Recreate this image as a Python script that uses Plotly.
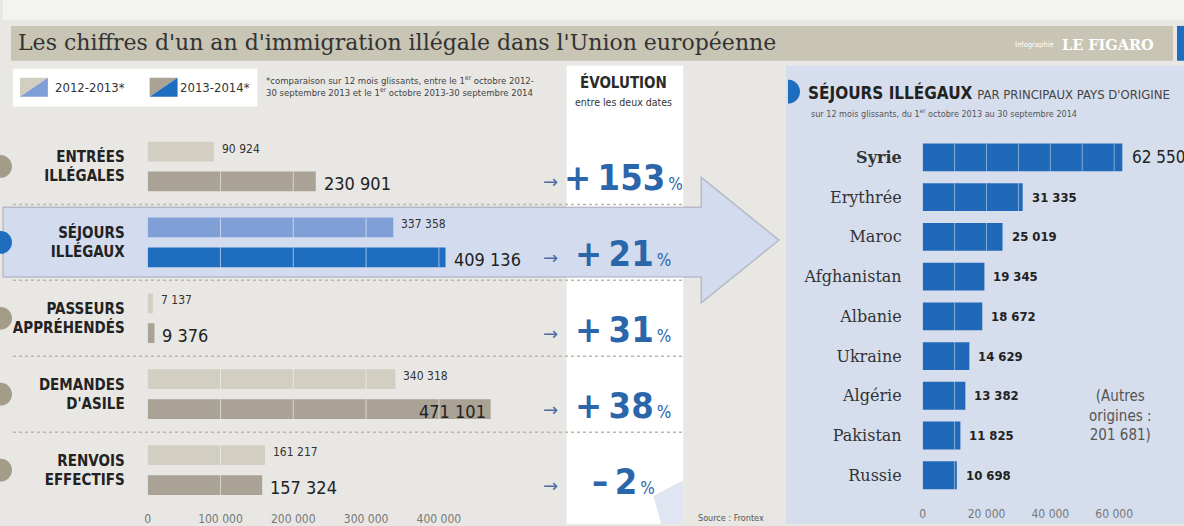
import math
import plotly.graph_objects as go

W, H = 1184, 526

# ---------------- data ----------------
row_labels = ["ENTRÉES<br>ILLÉGALES", "SÉJOURS<br>ILLÉGAUX", "PASSEURS<br>APPRÉHENDÉS",
              "DEMANDES<br>D'ASILE", "RENVOIS<br>EFFECTIFS"]
values_2012_2013 = [90924, 337358, 7137, 340318, 161217]
values_2013_2014 = [230901, 409136, 9376, 471101, 157324]
evolution_pct = [153, 21, 31, 38, -2]
left_ticks = [0, 100000, 200000, 300000, 400000]

countries = ["Syrie", "Erythrée", "Maroc", "Afghanistan", "Albanie",
             "Ukraine", "Algérie", "Pakistan", "Russie"]
country_values = [62550, 31335, 25019, 19345, 18672, 14629, 13382, 11825, 10698]
other_origins = 201681
right_ticks = [0, 20000, 40000, 60000]

# ---------------- styling ----------------
COND = "Liberation Sans Narrow, DejaVu Sans Condensed, Roboto Condensed, Roboto, sans-serif"
SERIF = "DejaVu Serif, Liberation Serif, serif"
BG = "#e8e7e4"
TAN = "#c9c5b4"
BLUE = "#1f6dbf"
LIGHT_BLUE = "#7f9fd6"
GRAY_OLD = "#d2cec2"
GRAY_NEW = "#a9a295"
BAND = "#d3dcef"
PCT_BLUE = "#2b66aa"
HIGHLIGHT = 1  # row drawn in blue
THIN = "\u2009"

def px(x):
    return x / W

def py(y):
    return 1 - y / H

def fmt(n):
    return f"{n:,}".replace(",", " ")

n_rows = len(row_labels)
off, bw = 0.197, 0.26          # bar offset from row centre, bar thickness (row units)
rows = list(range(n_rows))
y_old = [i - off for i in rows]
y_new = [i + off for i in rows]

fig = go.Figure()

# left: two bars per indicator
fig.add_trace(go.Bar(
    x=values_2012_2013, y=y_old, orientation="h", width=bw,
    marker=dict(color=[LIGHT_BLUE if i == HIGHLIGHT else GRAY_OLD for i in rows], line_width=0),
    xaxis="x", yaxis="y", hoverinfo="skip"))
fig.add_trace(go.Bar(
    x=values_2013_2014, y=y_new, orientation="h", width=bw,
    marker=dict(color=[BLUE if i == HIGHLIGHT else GRAY_NEW for i in rows], line_width=0),
    xaxis="x", yaxis="y", hoverinfo="skip"))

# white segment marks inside left bars every 100 000
sx, sy = [], []
for vals, ys in ((values_2012_2013, y_old), (values_2013_2014, y_new)):
    for v, yc in zip(vals, ys):
        for k in left_ticks[1:]:
            if k < v:
                sx += [k, k, None]
                sy += [yc - bw / 2, yc + bw / 2, None]
fig.add_trace(go.Scatter(x=sx, y=sy, mode="lines", xaxis="x", yaxis="y",
                         line=dict(color="rgba(255,255,255,0.55)", width=1), hoverinfo="skip"))

# right: countries
cw = 0.7
fig.add_trace(go.Bar(
    x=country_values, y=list(range(len(countries))), orientation="h", width=cw,
    marker=dict(color="#2068b8", line_width=0), xaxis="x2", yaxis="y2", hoverinfo="skip"))
sx, sy = [], []
for j, v in enumerate(country_values):
    k = 10000
    while k < v:
        sx += [k, k, None]
        sy += [j - cw / 2, j + cw / 2, None]
        k += 10000
fig.add_trace(go.Scatter(x=sx, y=sy, mode="lines", xaxis="x2", yaxis="y2",
                         line=dict(color="rgba(255,255,255,0.45)", width=1), hoverinfo="skip"))

# ---------------- background shapes ----------------
shapes = []
def rect(x0, y0, x1, y1, color, **kw):
    shapes.append(dict(type="rect", xref="paper", yref="paper", x0=px(x0), x1=px(x1),
                       y0=py(y1), y1=py(y0), fillcolor=color, line_width=0, layer="below", **kw))

def poly(points, color, line=None, layer="below"):
    d = "M " + " L ".join(f"{px(a)},{py(b)}" for a, b in points) + " Z"
    shapes.append(dict(type="path", path=d, xref="paper", yref="paper", fillcolor=color,
                       line=line or dict(width=0), layer=layer))

def half_disc(cx, cy, r, color):
    pts = [(cx + r * math.cos(a), cy + r * math.sin(a))
           for a in [math.pi / 2 - math.pi * t / 24 for t in range(25)]]
    poly(pts, color, layer="above")

rect(0, 0, W, 20, "#f3f3f1")
rect(8, 26, 1173, 61, TAN)
rect(1177, 26, W, 61, BLUE)
rect(10, 69, 255, 107, "white")
rect(565, 66, 682, H, "white")
rect(785, 66, W, H, "#d6deee")

# folded corner at the foot of the evolution column
poly([(652, 498), (682, 482), (682, H), (660, H)], "#dfe5f1")

# highlighted band with arrow pointing to the country breakdown
poly([(0, 208), (700, 208), (700, 178), (778, 241), (700, 304), (700, 278), (0, 278)],
     BAND, dict(color="rgba(150,155,170,0.55)", width=1.5))

# dotted separators between indicators
for i in rows[:-1]:
    shapes.append(dict(type="line", xref="paper", yref="y", x0=px(10), x1=px(682),
                       y0=i + 0.5, y1=i + 0.5, line=dict(color="#b9b6ae", width=1.5, dash="dot"),
                       layer="below"))

# half-disc markers at the left edge of each indicator
for i in rows:
    shapes.append(dict(type="circle", xref="paper", yref="y", x0=px(-14), x1=px(9),
                       y0=i - 0.15, y1=i + 0.15, fillcolor=BLUE if i == HIGHLIGHT else "#a39c88",
                       line_width=0, layer="above"))
half_disc(787, 92, 12, BLUE)

# legend swatches (diagonal split)
for (x0, c1, c2) in ((17, GRAY_OLD, LIGHT_BLUE), (147, GRAY_NEW, BLUE)):
    poly([(x0, 78), (x0 + 28, 78), (x0, 97)], c1)
    poly([(x0 + 28, 78), (x0 + 28, 97), (x0, 97)], c2)

# ---------------- text ----------------
ann = []
def text(x, y, t, size, color="#2b2b2b", family=COND, xanchor="left", **kw):
    ann.append(dict(xref="paper", yref="paper", x=px(x), y=py(y), text=t, showarrow=False,
                    xanchor=xanchor, yanchor="middle", font=dict(size=size, color=color, family=family), **kw))

text(13, 43, "Les chiffres d'un an d'immigration illégale dans l'Union européenne", 22,
     color="#333", family=SERIF)
text(1013, 45, "Infographie", 7.5, color="white")
text(1060, 45, "<b>LE FIGARO</b>", 14.5, color="white", family=SERIF)

text(50, 88, "2012-2013*", 13, color="#333")
text(175, 88, "2013-2014*", 13, color="#333")
text(262, 86, "*comparaison sur 12 mois glissants, entre le 1<sup>er</sup> octobre 2012-<br>"
              "30 septembre 2013 et le 1<sup>er</sup> octobre 2013-30 septembre 2014", 9.5,
     color="#444", align="left")
text(622, 83, "<b>ÉVOLUTION</b>", 15, xanchor="center")
text(622, 102, "entre les deux dates", 10.5, xanchor="center", color="#333")

text(805, 93, "<b>SÉJOURS ILLÉGAUX</b> <span style='font-size:13px;color:#444'>PAR PRINCIPAUX PAYS D'ORIGINE</span>",
     17, color="#222")
text(808, 113, "sur 12 mois glissants, du 1<sup>er</sup> octobre 2013 au 30 septembre 2014", 9, color="#555")
text(1120, 417, f"(Autres<br>origines :<br>{fmt(other_origins)})", 15, color="#555",
     xanchor="center", align="center")
text(730, 520, "Source : Frontex", 9, color="#555", xanchor="center")

# bar value labels (left)
for v, yc in zip(values_2012_2013, y_old):
    ann.append(dict(xref="x", yref="y", x=v, y=yc, text=fmt(v), showarrow=False,
                    xanchor="left", xshift=6, yshift=3, font=dict(size=12, color="#333", family=COND)))
for v, yc in zip(values_2013_2014, y_new):
    inside = v > 450000
    ann.append(dict(xref="x", yref="y", x=v, y=yc, text=fmt(v), showarrow=False,
                    xanchor="right" if inside else "left", xshift=-3 if inside else 6, yshift=-2,
                    font=dict(size=18, color="#222", family=COND)))

# evolution column
for i, p in enumerate(evolution_pct):
    sign = "+" if p >= 0 else "–"
    ann.append(dict(xref="paper", yref="y", x=px(622), y=i + 0.15, showarrow=False,
                    xanchor="center", yanchor="middle",
                    text=f"<b>{sign}{THIN}{abs(p)}</b><span style='font-size:17px'>{THIN}%</span>",
                    font=dict(size=36, color=PCT_BLUE, family=COND)))
    ann.append(dict(xref="paper", yref="y", x=px(549), y=i + off, showarrow=False,
                    xanchor="center", yanchor="middle", text="→",
                    font=dict(size=18, color="#4a6fa5", family="DejaVu Sans")))

# country value labels
for j, v in enumerate(country_values):
    big = j == 0
    ann.append(dict(xref="x2", yref="y2", x=v, y=j, text=fmt(v) if big else f"<b>{fmt(v)}</b>",
                    showarrow=False, xanchor="left", xshift=8 if big else 7,
                    font=dict(size=17 if big else 13, color="#222", family=COND)))

fig.update_layout(
    width=W, height=H, margin=dict(l=0, r=0, t=0, b=0),
    paper_bgcolor=BG, plot_bgcolor="rgba(0,0,0,0)", showlegend=False, barmode="overlay",
    shapes=shapes, annotations=ann,
    xaxis=dict(domain=[px(145), px(510)], range=[0, 500000], anchor="y",
               tickvals=left_ticks, ticktext=[fmt(t) for t in left_ticks],
               tickfont=dict(size=12, color="#777", family=COND), ticklabelstandoff=2,
               showgrid=False, zeroline=False, showline=False, ticks=""),
    yaxis=dict(domain=[py(510), py(129)], range=[n_rows - 0.5, -0.5], anchor="x",
               tickvals=rows, ticktext=[f"<b>{t}</b>" for t in row_labels],
               tickfont=dict(size=15, color="#222", family=COND), ticklabelstandoff=22,
               showgrid=False, zeroline=False, showline=False, ticks=""),
    xaxis2=dict(domain=[px(922), px(1150)], range=[0, 71250], anchor="y2",
                tickvals=right_ticks, ticktext=[fmt(t) for t in right_ticks],
                tickfont=dict(size=12, color="#777", family=COND), ticklabelstandoff=10,
                showgrid=False, zeroline=False, showline=False, ticks=""),
    yaxis2=dict(domain=[py(497), py(138)], range=[len(countries) - 0.5, -0.5], anchor="x2",
                tickvals=list(range(len(countries))),
                ticktext=[f"<b>{c}</b>" if j == 0 else c for j, c in enumerate(countries)],
                tickfont=dict(size=16, color="#333", family=SERIF), ticklabelstandoff=20,
                showgrid=False, zeroline=False, showline=False, ticks=""),
)

fig.write_html("out.html")
